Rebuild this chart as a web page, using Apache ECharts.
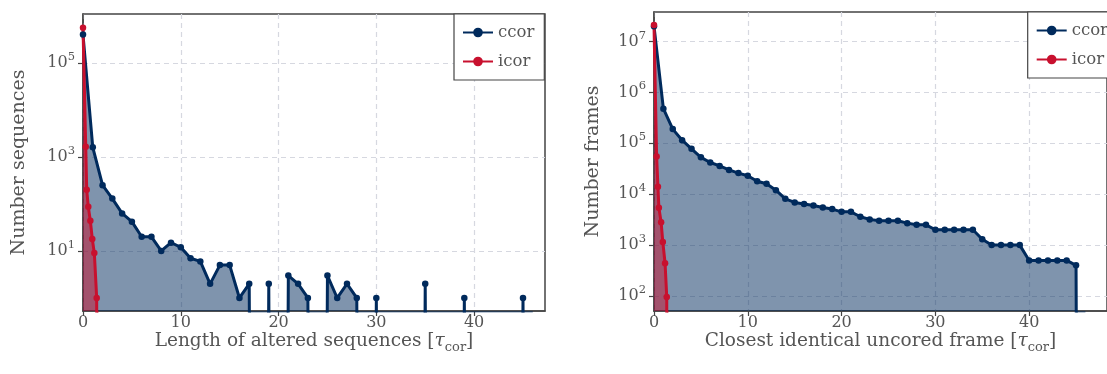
<!DOCTYPE html>
<html>
<head>
<meta charset="utf-8">
<script src="https://cdn.jsdelivr.net/npm/echarts@6/dist/echarts.min.js"></script>
<style>
  html, body { margin: 0; padding: 0; background: #fff; }
  #chart { width: 1107px; height: 374px; }
</style>
</head>
<body>
<div id="chart"></div>
<script>
// Left panel: length of altered sequences (in units of tau_cor)
const seqLenX = [0,1,2,3,4,5,6,7,8,9,10,11,12,13,14,15,16,17,18,19,20,21,22,23,24,25,26,27,28,29,30,31,32,33,34,35,36,37,38,39,40,41,42,43,44,45,46];
const seqCcor = [4e5,1600,250,130,63,42,20,20,10,15,12,7,6,2,5,5,1,2,0,2,0,3,2,1,0,3,1,2,1,0,1,0,0,0,0,2,0,0,0,1,0,0,0,0,0,1,0];
const seqIcorX = [0,0.28,0.38,0.54,0.75,0.95,1.16,1.4,1.6];
const seqIcor = [5.6e5,1650,200,87,44,18,9,1,0];

// Right panel: closest identical uncored frame (in units of tau_cor)
const frameX = [0,1,2,3,4,5,6,7,8,9,10,11,12,13,14,15,16,17,18,19,20,21,22,23,24,25,26,27,28,29,30,31,32,33,34,35,36,37,38,39,40,41,42,43,44,45,46];
const frameCcor = [2e7,4.8e5,1.9e5,1.15e5,7.8e4,5.3e4,4.2e4,3.6e4,3.0e4,2.6e4,2.3e4,1.8e4,1.6e4,1.2e4,8.1e3,6.9e3,6.4e3,6.0e3,5.5e3,5.1e3,4.5e3,4.5e3,3.6e3,3.2e3,3.0e3,3.0e3,3.0e3,2.7e3,2.5e3,2.5e3,2.0e3,2.0e3,2.0e3,2.0e3,2.0e3,1.3e3,1.0e3,1.0e3,1.0e3,1.0e3,500,500,500,500,500,400,0];
const frameIcorX = [0,0.28,0.42,0.52,0.76,0.94,1.18,1.36,1.55];
const frameIcor = [2.1e7,5.5e4,1.4e4,5.4e3,2.8e3,1.15e3,440,95,0];

// Tick labels
const xTicks = [0, 10, 20, 30, 40];
const seqYTicks = [10, 1000, 100000];
const frameYTicks = [100, 1000, 10000, 100000, 1000000, 10000000];

const NAVY = '#002a5c';
const RED = '#c8102e';
const TEXT = '#555';
const SPINE = '#444';
const GRIDLINE = '#d6d8e0';
const FONT = 'DejaVu Serif';
// Empty bins sit far below the visible range on the log axis, so the
// line and fill drop straight to the bottom edge there.
const FLOOR = 1e-40;

function toPoints(xs, ys) {
  return xs.map((x, i) => ys[i] > 0
    ? { value: [x, ys[i]] }
    : { value: [x, FLOOR], symbol: 'none' });
}

function lineSeries(name, color, xs, ys, gi) {
  return {
    name, type: 'line', xAxisIndex: gi, yAxisIndex: gi,
    data: toPoints(xs, ys),
    symbol: 'circle', symbolSize: 6.5,
    lineStyle: { color, width: 3 },
    itemStyle: { color },
    areaStyle: { color, opacity: 0.5, origin: 'start' },
    clip: true, animation: false
  };
}

const supRich = {
  b: { fontFamily: FONT, fontSize: 16, color: TEXT, lineHeight: 24 },
  sup: { fontFamily: FONT, fontSize: 11.5, color: TEXT, lineHeight: 11, verticalAlign: 'top' }
};
const nameRich = {
  n: { fontFamily: FONT, fontSize: 18.5, color: TEXT, lineHeight: 26 },
  it: { fontFamily: FONT, fontStyle: 'italic', fontSize: 18.5, color: TEXT, lineHeight: 26 },
  sub: { fontFamily: FONT, fontSize: 13, color: TEXT, lineHeight: 13, verticalAlign: 'bottom' }
};

function xAxis(gi, max, title) {
  return {
    type: 'value', gridIndex: gi, min: 0, max,
    name: '{n|' + title + ' [}{it|τ}{sub|cor}{n|]}',
    nameLocation: 'middle', nameGap: 17, nameMoveOverlap: false,
    nameTextStyle: { rich: nameRich },
    axisLine: { show: true, lineStyle: { color: SPINE, width: 1.5 } },
    axisTick: { show: true, length: 5, customValues: xTicks, lineStyle: { color: SPINE, width: 1.2 } },
    axisLabel: { customValues: xTicks, fontFamily: FONT, fontSize: 16, color: TEXT, margin: 4 },
    splitLine: { show: true, lineStyle: { color: GRIDLINE, width: 1.2, type: [5, 4] } }
  };
}

function yAxis(gi, min, max, ticks, title, gap) {
  return {
    type: 'log', logBase: 10, gridIndex: gi, min, max,
    name: title, nameLocation: 'middle', nameGap: gap, nameMoveOverlap: false,
    nameTextStyle: { fontFamily: FONT, fontSize: 19, color: TEXT },
    axisLine: { show: true, lineStyle: { color: SPINE, width: 1.5 } },
    axisTick: { show: true, length: 5, customValues: ticks, lineStyle: { color: SPINE, width: 1.2 } },
    axisLabel: {
      customValues: ticks, margin: 8,
      formatter: v => '{b|10}{sup|' + Math.round(Math.log10(v)) + '}',
      rich: supRich
    },
    splitLine: { show: true, lineStyle: { color: GRIDLINE, width: 1.2, type: [5, 4] } }
  };
}

function legend(pos) {
  return Object.assign({
    orient: 'vertical',
    data: ['ccor', 'icor'],
    itemWidth: 30, itemHeight: 12, itemGap: 12,
    padding: [10, 10, 10, 8],
    backgroundColor: '#fff', borderColor: SPINE, borderWidth: 1.2, borderRadius: 0,
    textStyle: { fontFamily: FONT, fontSize: 16.5, color: TEXT }
  }, pos);
}

const chart = echarts.init(document.getElementById('chart'), null, { renderer: 'canvas' });
chart.setOption({
  backgroundColor: '#fff',
  animation: false,
  grid: [
    { left: 83, top: 14, width: 462, height: 297, show: true, borderColor: SPINE, borderWidth: 1.5, backgroundColor: 'transparent' },
    { left: 654, top: 12, width: 462, height: 299, show: true, borderColor: SPINE, borderWidth: 1.5, backgroundColor: 'transparent' }
  ],
  xAxis: [
    xAxis(0, 47.25, 'Length of altered sequences'),
    xAxis(1, 48.3, 'Closest identical uncored frame')
  ],
  yAxis: [
    yAxis(0, Math.pow(10, -0.277), Math.pow(10, 6.04), seqYTicks, 'Number sequences', 54),
    yAxis(1, Math.pow(10, 1.705), Math.pow(10, 7.58), frameYTicks, 'Number frames', 51)
  ],
  legend: [legend({ left: 454, top: 14 }), legend({ right: -11, top: 12 })],
  series: [
    lineSeries('ccor', NAVY, seqLenX, seqCcor, 0),
    lineSeries('icor', RED, seqIcorX, seqIcor, 0),
    lineSeries('ccor', NAVY, frameX, frameCcor, 1),
    lineSeries('icor', RED, frameIcorX, frameIcor, 1)
  ]
});
</script>
</body>
</html>
